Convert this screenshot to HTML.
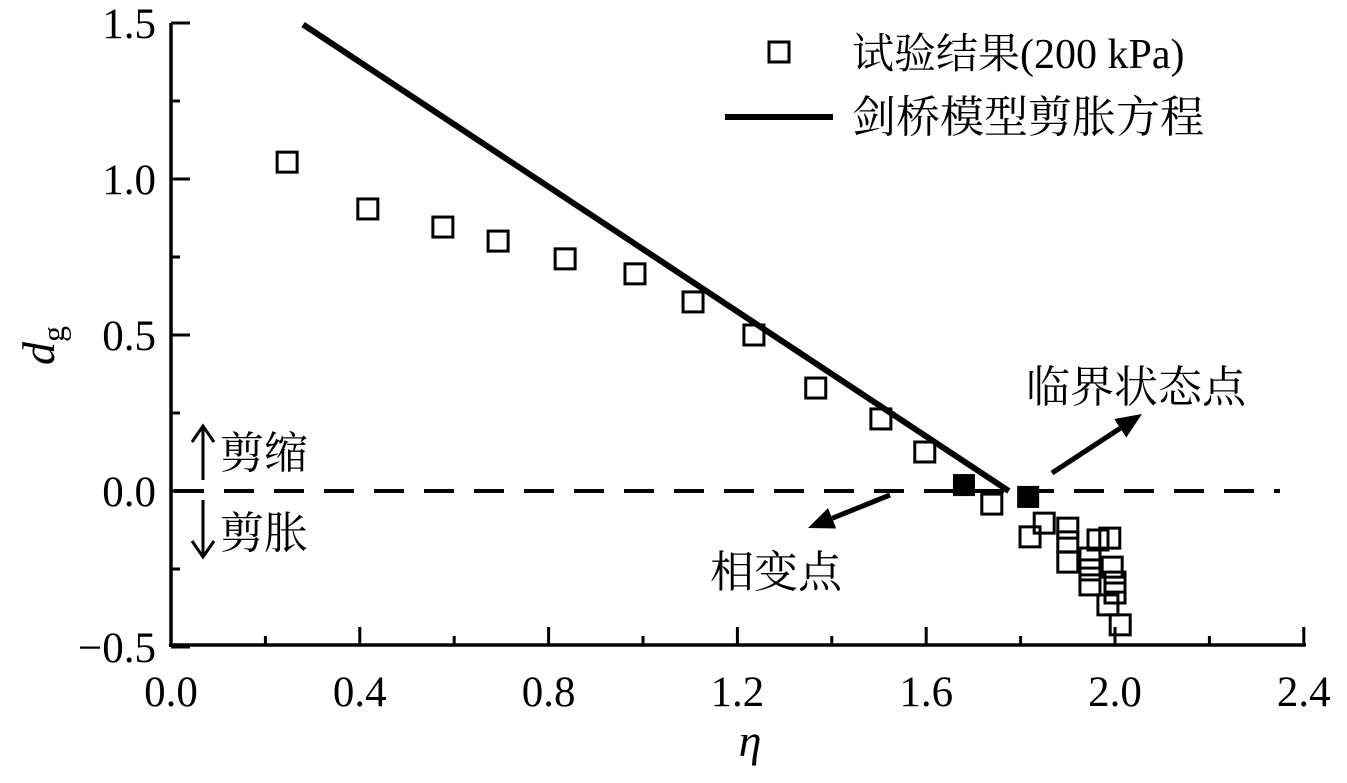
<!DOCTYPE html>
<html><head><meta charset="utf-8"><style>
body{margin:0;background:#fff}
svg text{font-family:"Liberation Serif","Noto Serif CJK SC",serif;fill:#000}
</style></head><body>
<svg id="c" width="1347" height="778" viewBox="0 0 1347 778"></svg>
<script>
const xTicks=[0.0,0.4,0.8,1.2,1.6,2.0,2.4];
const yTicks=[1.5,1.0,0.5,0.0,-0.5];
const etaVals=[0.246,0.417,0.576,0.693,0.835,0.983,1.106,1.235,1.366,1.504,1.597,1.739,1.850,1.820,1.900,1.900,1.900,1.964,1.989,1.947,1.947,1.947,1.994,2.000,2.000,1.985,2.011];
const dgVals=[1.054,0.904,0.846,0.801,0.744,0.696,0.606,0.500,0.330,0.231,0.125,-0.042,-0.103,-0.147,-0.119,-0.163,-0.228,-0.157,-0.151,-0.215,-0.253,-0.301,-0.244,-0.292,-0.327,-0.365,-0.429];
const phaseEta=[1.680,1.816];
const phaseDg=[0.019,-0.019];
const modelM=1.775;
const modelEtaRange=[0.28,1.775];

const NS='http://www.w3.org/2000/svg';
const svg=document.getElementById('c');
const X=v=>171+v*472;
const Y=v=>491-v*312;
function el(t,a,txt){const e=document.createElementNS(NS,t);for(const k in a)e.setAttribute(k,a[k]);if(txt!=null)e.textContent=txt;svg.appendChild(e);return e;}

let e=el('line',{x1:171,y1:23,x2:171,y2:647,stroke:'#000','stroke-width':3.5});

e=el('line',{x1:169,y1:645,x2:1306,y2:645,stroke:'#000','stroke-width':3.5});

xTicks.forEach((t,i)=>{
  el('line',{x1:X(t),y1:645,x2:X(t),y2:627,stroke:'#000','stroke-width':3});
  if(i<xTicks.length-1)el('line',{x1:X(t+0.2),y1:645,x2:X(t+0.2),y2:636,stroke:'#000','stroke-width':3});
  e=el('text',{x:X(t),y:706,'font-size':43,'text-anchor':'middle'},t.toFixed(1));
  
});
yTicks.forEach((t,i)=>{
  el('line',{x1:171,y1:Y(t),x2:190,y2:Y(t),stroke:'#000','stroke-width':3});
  if(i<yTicks.length-1)el('line',{x1:171,y1:Y(t-0.25),x2:180,y2:Y(t-0.25),stroke:'#000','stroke-width':3});
  e=el('text',{x:156,y:Y(t)+15,'font-size':43,'text-anchor':'end'},(t<0?'\u2212':'')+Math.abs(t).toFixed(1));
  
});
e=el('text',{x:750,y:756,'font-size':46,'font-style':'italic','text-anchor':'middle'},'η');

e=el('text',{x:0,y:0,'font-size':46,transform:'translate(54,365) rotate(-90)'});

e.innerHTML='<tspan font-style="italic">d</tspan><tspan font-size="32" dy="10">g</tspan>';

e=el('line',{x1:174,y1:Y(0),x2:1280,y2:Y(0),stroke:'#000','stroke-width':4,'stroke-dasharray':'30 20'});


e=el('line',{x1:X(modelEtaRange[0]),y1:Y(modelM-modelEtaRange[0]),x2:X(modelEtaRange[1]),y2:Y(modelM-modelEtaRange[1]),stroke:'#000','stroke-width':6});


etaVals.forEach((v,i)=>{
  const r=el('rect',{x:X(v)-10,y:Y(dgVals[i])-10,width:20,height:20,fill:'none',stroke:'#000','stroke-width':3});
  
  
});
phaseEta.forEach((v,i)=>{
  const r=el('rect',{x:X(v)-11,y:Y(phaseDg[i])-11,width:22,height:22,fill:'#000'});
  
  
});

function arrow(x1,y1,x2,y2,name){
  const g=el('g',{});
  
  const a=Math.atan2(y2-y1,x2-x1),L=26,W=11;
  const bx=x2-L*Math.cos(a),by=y2-L*Math.sin(a);
  const l=document.createElementNS(NS,'line');
  l.setAttribute('x1',x1);l.setAttribute('y1',y1);l.setAttribute('x2',bx);l.setAttribute('y2',by);l.setAttribute('stroke','#000');l.setAttribute('stroke-width',5);g.appendChild(l);
  const p=document.createElementNS(NS,'polygon');
  p.setAttribute('points',`${x2},${y2} ${bx+W*Math.sin(a)},${by-W*Math.cos(a)} ${bx-W*Math.sin(a)},${by+W*Math.cos(a)}`);g.appendChild(p);
}
function thinArrow(x,y1,y2,name){
  const g=el('g',{});
  
  const d=y2>y1?-1:1;
  const p=document.createElementNS(NS,'path');
  p.setAttribute('d',`M${x},${y1} L${x},${y2} M${x-11},${y2+d*16} L${x},${y2} L${x+11},${y2+d*16}`);
  p.setAttribute('stroke','#000');p.setAttribute('stroke-width',3);p.setAttribute('fill','none');g.appendChild(p);
}
arrow(1052,473,1142,414,'critical-arrow');
arrow(890,495,808,528,'phase-arrow');
e=el('text',{x:1026,y:402,'font-size':44},'临界状态点');

e=el('text',{x:710,y:587,'font-size':44},'相变点');

thinArrow(203,480,426,'contraction-arrow');
thinArrow(203,500,557,'dilation-arrow');
e=el('text',{x:220,y:468,'font-size':44},'剪缩');

e=el('text',{x:220,y:548,'font-size':44},'剪胀');


e=el('rect',{x:769,y:42,width:20,height:20,fill:'none',stroke:'#000','stroke-width':3});

e=el('text',{x:852,y:68,'font-size':42},'试验结果(200 kPa)');

e=el('line',{x1:725,y1:117,x2:833,y2:117,stroke:'#000','stroke-width':6});

e=el('text',{x:852,y:132,'font-size':44},'剑桥模型剪胀方程');

</script>
</body></html>
